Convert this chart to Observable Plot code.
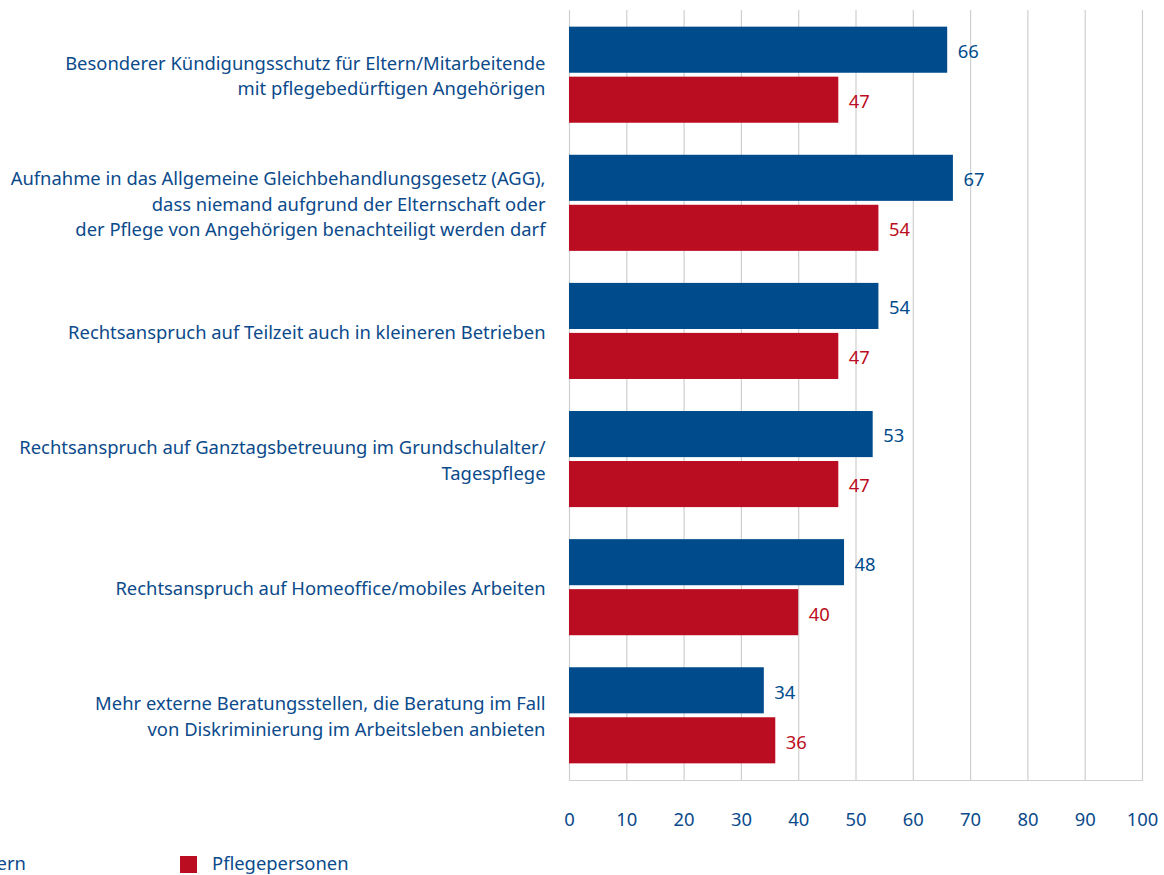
<!DOCTYPE html>
<html>
<head>
<meta charset="utf-8">
<script src="https://cdn.jsdelivr.net/npm/d3@7"></script>
<script src="https://cdn.jsdelivr.net/npm/@observablehq/plot@0.6"></script>
<style>
  html, body { margin: 0; padding: 0; background: #fff; overflow: hidden; }
  #wrap { position: relative; width: 1164px; height: 875px; font-family: "Noto Sans", sans-serif; }
  .leg { position: absolute; top: 853px; font-size: 18.4px; color: #0b4a8b; white-space: nowrap; }
  .sw { position: absolute; top: 3px; width: 17px; height: 17px; }
  .lt { position: absolute; left: 32px; top: -3px; }
</style>
</head>
<body>
<div id="wrap"></div>
<script>
const categories = [
  "Besonderer Kündigungsschutz für Eltern/Mitarbeitende\nmit pflegebedürftigen Angehörigen",
  "Aufnahme in das Allgemeine Gleichbehandlungsgesetz (AGG),\ndass niemand aufgrund der Elternschaft oder\nder Pflege von Angehörigen benachteiligt werden darf",
  "Rechtsanspruch auf Teilzeit auch in kleineren Betrieben",
  "Rechtsanspruch auf Ganztagsbetreuung im Grundschulalter/\nTagespflege",
  "Rechtsanspruch auf Homeoffice/mobiles Arbeiten",
  "Mehr externe Beratungsstellen, die Beratung im Fall\nvon Diskriminierung im Arbeitsleben anbieten"
];
const series = ["Eltern", "Pflegepersonen"];
const eltern = [66, 67, 54, 53, 48, 34];
const pflege = [47, 54, 47, 47, 40, 36];
const xTicks = [0, 10, 20, 30, 40, 50, 60, 70, 80, 90, 100];

const BLUE = "#004b8c";
const RED = "#bb0d21";
const TEXT = "#0b4a8b";
const FS = 18.4;

const dE = categories.map((c, i) => ({cat: c, v: eltern[i]}));
const dP = categories.map((c, i) => ({cat: c, v: pflege[i]}));

const chart = Plot.plot({
  width: 1164,
  height: 850,
  marginLeft: 569,
  marginRight: 22,
  marginTop: 10,
  marginBottom: 70,
  style: {fontFamily: "'Noto Sans', sans-serif", fontSize: FS + "px", color: TEXT, background: "#fff"},
  x: {domain: [0, 100], axis: null, label: null},
  y: {domain: categories, paddingInner: 0.25, paddingOuter: 0.13, round: false, axis: null, label: null},
  marks: [
    Plot.gridX(xTicks, {stroke: "#cfcfcf", strokeOpacity: 1, strokeWidth: 1.2}),
    Plot.frame({anchor: "bottom", stroke: "#cfcfcf", strokeWidth: 1.2}),
    Plot.axisX({ticks: xTicks, tickSize: 0, tickPadding: 32, fill: TEXT, fontSize: FS, label: null, tickFormat: d => String(d)}),
    Plot.axisY({tickSize: 0, tickPadding: 24, fill: TEXT, fontSize: FS, lineHeight: 1.4, textAnchor: "end", dy: -1, label: null, tickFormat: d => d}),
    Plot.barX(dE, {x: "v", y: "cat", fill: BLUE, insetBottom: 50}),
    Plot.barX(dP, {x: "v", y: "cat", fill: RED, insetTop: 50}),
    Plot.text(dE, {x: "v", y: "cat", text: d => String(d.v), dx: 10, dy: -23, textAnchor: "start", fill: BLUE, fontSize: FS}),
    Plot.text(dP, {x: "v", y: "cat", text: d => String(d.v), dx: 10, dy: 27, textAnchor: "start", fill: RED, fontSize: FS})
  ]
});

const wrap = document.getElementById("wrap");
wrap.appendChild(chart);

const legendColors = [BLUE, RED];
const legendX = [-57, 180];
series.forEach((s, i) => {
  const item = document.createElement("div");
  item.className = "leg";
  item.style.left = legendX[i] + "px";
  const sw = document.createElement("span");
  sw.className = "sw";
  sw.style.background = legendColors[i];
  const t = document.createElement("span");
  t.className = "lt";
  t.textContent = s;
  item.appendChild(sw);
  item.appendChild(t);
  wrap.appendChild(item);
});
</script>
</body>
</html>
